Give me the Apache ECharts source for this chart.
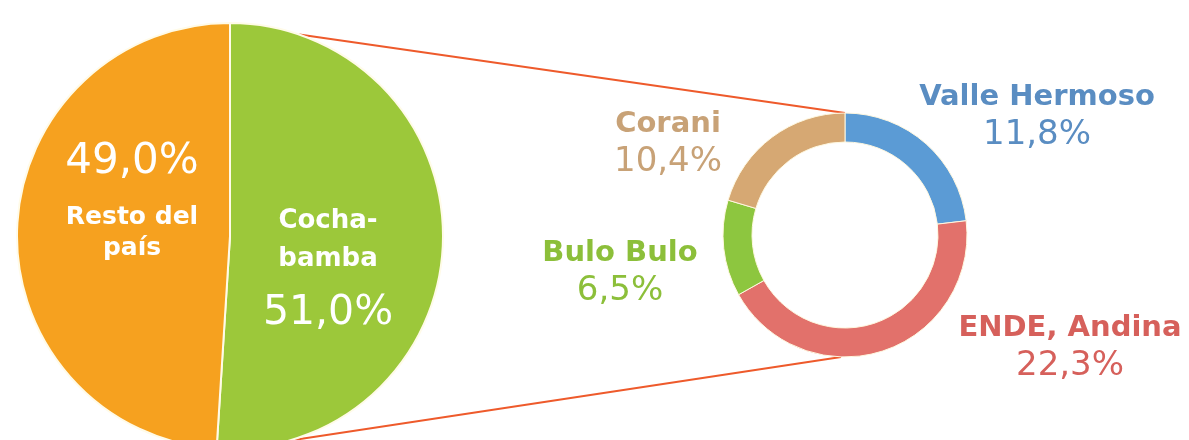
<!DOCTYPE html>
<html>
<head>
<meta charset="utf-8">
<script src="https://cdn.jsdelivr.net/npm/echarts@6/dist/echarts.min.js" type="text/javascript"></script>
<style>
    html, body { margin: 0; padding: 0; background: #ffffff; }
</style>
</head>
<body>
<div id="chartMain" style="width:1189px;height:440px;"></div>

<script type="text/javascript">
    // datos
    var regionNames = ['Cocha-\nbamba', 'Resto del\npaís'];
    var regionShares = [51.0, 49.0];
    var regionColors = ['#9cc83a', '#f6a11f'];

    var plantNames = ['Valle Hermoso', 'ENDE, Andina', 'Bulo Bulo', 'Corani'];
    var plantShares = [11.8, 22.3, 6.5, 10.4];
    var plantColors = ['#5b9bd5', '#e2716b', '#8dc63f', '#d6a873'];
    var plantTextColors = ['#5a8dc2', '#d6605b', '#8cbf3a', '#c8a277'];

    // geometria
    var bigCenter = [230, 236], bigR = 213;
    var ringCenter = [845, 235], ringR = [93, 122];
    // desplazamiento de etiquetas respecto al centro de cada gráfico
    var regionLabelOffset = [[98, 39], [-98, -43]];
    var plantLabelOffset = [[192, -119], [225, 112], [-225, 37], [-177, -92]];

    function pct(v) {
        return v.toFixed(1).replace('.', ',') + '%';
    }

    function circlePoint(c, r, deg) {
        var a = deg * Math.PI / 180;
        return [c[0] + r * Math.sin(a), c[1] - r * Math.cos(a)];
    }

    var regionData = [];
    for (var i = 0; i < regionNames.length; i++) {
        var lines = regionNames[i].split('\n');
        var txt;
        if (i == 0) {
            txt = '{n|' + lines[0] + '}\n{n|' + lines[1] + '}\n{p|' + pct(regionShares[i]) + '}';
        } else {
            txt = '{q|' + pct(regionShares[i]) + '}\n{m|' + lines[0] + '}\n{m|' + lines[1] + '}';
        }
        regionData.push({
            name: regionNames[i],
            value: regionShares[i],
            itemStyle: { color: regionColors[i] },
            label: { formatter: txt }
        });
    }

    var plantData = [];
    for (var i = 0; i < plantNames.length; i++) {
        plantData.push({
            name: plantNames[i],
            value: plantShares[i],
            itemStyle: { color: plantColors[i] },
            label: {
                color: plantTextColors[i],
                formatter: '{n|' + plantNames[i] + '}\n{p|' + pct(plantShares[i]) + '}'
            }
        });
    }

    var topA = circlePoint(bigCenter, bigR, 19);
    var botA = circlePoint(bigCenter, bigR, 164);

    var option = {
        animation: false,
        backgroundColor: '#ffffff',
        graphic: [
            {
                type: 'line', z: -1,
                shape: { x1: topA[0], y1: topA[1], x2: ringCenter[0], y2: ringCenter[1] - ringR[1] },
                style: { stroke: '#ee5a2b', lineWidth: 2 }
            },
            {
                type: 'line', z: -1,
                shape: { x1: botA[0], y1: botA[1], x2: ringCenter[0] - 4, y2: ringCenter[1] + ringR[1] },
                style: { stroke: '#ee5a2b', lineWidth: 2 }
            }
        ],
        series: [
            {
                name: 'regiones',
                type: 'pie',
                center: bigCenter,
                radius: [0, bigR],
                startAngle: 90,
                clockwise: true,
                silent: true,
                itemStyle: { borderColor: '#fffbe8', borderWidth: 2 },
                label: {
                    show: true,
                    position: 'inside',
                    color: '#ffffff',
                    fontFamily: 'DejaVu Sans',
                    rich: {
                        n: { color: '#ffffff', fontFamily: 'DejaVu Sans', fontWeight: 'bold', fontSize: 26, lineHeight: 38 },
                        p: { color: '#ffffff', fontFamily: 'DejaVu Sans', fontSize: 41, lineHeight: 70 },
                        q: { color: '#ffffff', fontFamily: 'DejaVu Sans', fontSize: 42, lineHeight: 79 },
                        m: { color: '#ffffff', fontFamily: 'DejaVu Sans', fontWeight: 'bold', fontSize: 25, lineHeight: 31 }
                    }
                },
                labelLine: { show: false },
                labelLayout: function (params) {
                    var o = regionLabelOffset[params.dataIndex];
                    return { x: bigCenter[0] + o[0], y: bigCenter[1] + o[1], align: 'center', verticalAlign: 'middle' };
                },
                data: regionData
            },
            {
                name: 'centrales',
                type: 'pie',
                center: ringCenter,
                radius: ringR,
                startAngle: 90,
                clockwise: true,
                silent: true,
                itemStyle: { borderColor: '#fff8e0', borderWidth: 1 },
                label: {
                    show: true,
                    position: 'inside',
                    fontFamily: 'DejaVu Sans',
                    rich: {
                        n: { fontFamily: 'DejaVu Sans', fontWeight: 'bold', fontSize: 29, lineHeight: 38 },
                        p: { fontFamily: 'DejaVu Sans', fontSize: 34, lineHeight: 38 }
                    }
                },
                labelLine: { show: false },
                labelLayout: function (params) {
                    var o = plantLabelOffset[params.dataIndex];
                    return { x: ringCenter[0] + o[0], y: ringCenter[1] + o[1], align: 'center', verticalAlign: 'middle' };
                },
                data: plantData
            }
        ]
    };

    var myChart = echarts.init(document.getElementById('chartMain'));
    myChart.setOption(option);
</script>
</body>
</html>
